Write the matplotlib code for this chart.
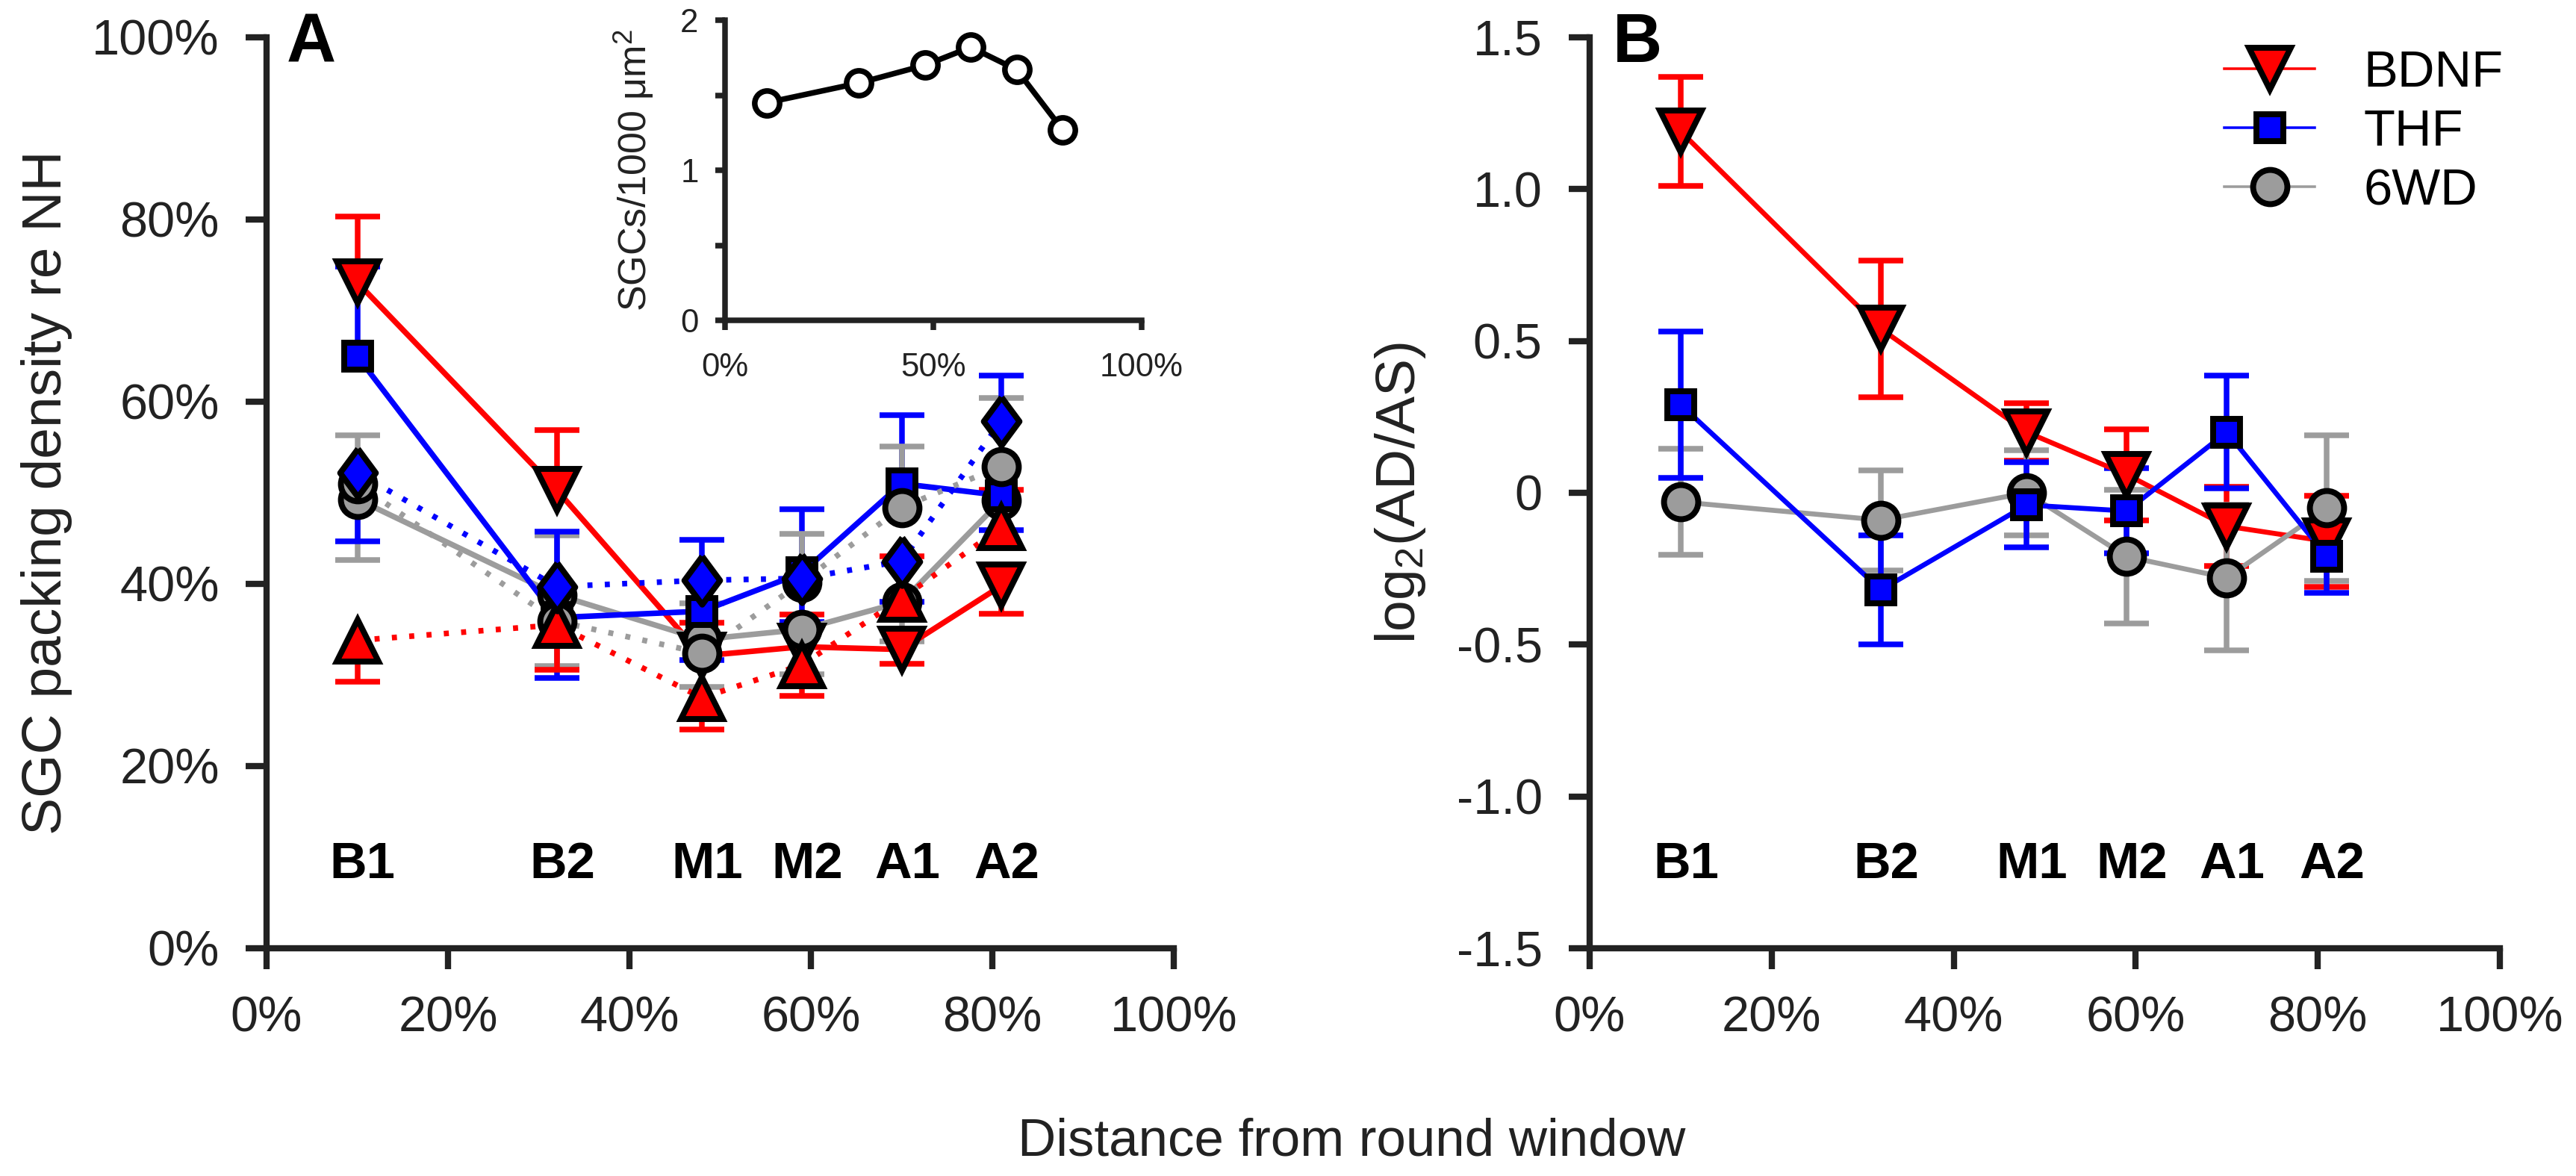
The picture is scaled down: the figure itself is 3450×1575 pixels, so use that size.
import numpy as np
import matplotlib
matplotlib.use('Agg')
import matplotlib.pyplot as plt
from matplotlib.lines import Line2D

plt.rcParams['font.family'] = ['Liberation Sans', 'DejaVu Sans']
plt.rcParams['mathtext.fontset'] = 'custom'
plt.rcParams['mathtext.rm'] = 'Liberation Sans'
plt.rcParams['mathtext.it'] = 'Liberation Sans:italic'
plt.rcParams['mathtext.bf'] = 'Liberation Sans:bold'

TEXT = '#222222'
RED = '#ff0000'
BLUE = '#0000ff'
GRAY = '#9c9c9c'

# ---------------- data ----------------
regions = ['B1', 'B2', 'M1', 'M2', 'A1', 'A2']
pos = [10, 32, 48, 59, 70, 81]          # % distance from round window

# Panel A: SGC packing density re NH (%), AD (solid) and AS (dotted), one-sided SEM
bdnf_ad = [73.1, 50.3, 32.1, 33.1, 32.8, 39.8]
bdnf_ad_err = [7.2, 6.6, 3.6, 3.5, 1.6, 3.1]
bdnf_as = [33.8, 35.5, 27.5, 31.1, 38.4, 46.2]
bdnf_as_err = [4.5, 4.9, 3.5, 3.4, 4.6, 4.1]
thf_ad = [65.0, 36.3, 37.0, 41.2, 51.0, 49.7]
thf_ad_err = [9.8, 6.6, 5.4, 7.0, 7.5, 3.8]
thf_as = [52.2, 39.7, 40.4, 40.6, 42.5, 57.9]
thf_as_err = [7.5, 6.0, 4.4, 4.8, 4.5, 5.0]
wd_ad = [49.3, 38.8, 33.9, 35.0, 38.0, 49.2]
wd_ad_err = [6.7, 6.5, 4.0, 4.9, 4.3, 5.3]
wd_as = [51.0, 35.9, 32.4, 40.2, 48.4, 52.9]
wd_as_err = [5.3, 4.9, 3.7, 5.3, 6.7, 7.5]

# Inset: normal-hearing SGC density (SGCs/1000 um^2)
nh_density = [1.45, 1.58, 1.70, 1.82, 1.67, 1.27]

# Panel B: log2(AD/AS) with SEM
bdnf_ratio = [1.19, 0.54, 0.20, 0.06, -0.11, -0.16]
bdnf_ratio_err = [0.18, 0.225, 0.095, 0.15, 0.13, 0.15]
thf_ratio = [0.29, -0.32, -0.04, -0.06, 0.20, -0.21]
thf_ratio_err = [0.24, 0.18, 0.14, 0.14, 0.185, 0.12]
wd_ratio = [-0.03, -0.09, 0.00, -0.21, -0.28, -0.05]
wd_ratio_err = [0.175, 0.165, 0.14, 0.22, 0.24, 0.24]

legend_labels = ['BDNF', 'THF', '6WD']

# ---------------- figure ----------------
W, H = 3450, 1575
fig = plt.figure(figsize=(W / 300, H / 300), dpi=300)

axA = fig.add_axes([357 / W, 1 - 1270 / H, 1215 / W, 1220 / H])
axB = fig.add_axes([2129 / W, 1 - 1270 / H, 1219 / W, 1220 / H])
axI = fig.add_axes([971 / W, 1 - 429 / H, 558 / W, 402 / H])

DIAMOND = [(0, 1), (0.74, 0), (0, -1), (-0.74, 0), (0, 1)]
DOT = (0, (0.9, 2.2))
LW = 1.8
CAPW = 14.6
MEW = 1.9


def style_axes(ax, tick_len=6.7, pad=8.5, lw=2.0, size=16):
    for s in ['top', 'right']:
        ax.spines[s].set_visible(False)
    for s in ['left', 'bottom']:
        ax.spines[s].set_linewidth(lw)
        ax.spines[s].set_color(TEXT)
    ax.tick_params(direction='out', length=tick_len, width=lw, colors=TEXT,
                   labelsize=size, pad=pad)


x = np.array(pos, dtype=float)

# ---- Panel A ----
seriesA = [
    # y, err, partner, color, linestyle, marker, ms, zorder
    (bdnf_ad, bdnf_ad_err, bdnf_as, RED, '-', 'v', 13.5, 5),
    (wd_ad, wd_ad_err, wd_as, GRAY, '-', 'o', 11.0, 6),
    (thf_ad, thf_ad_err, thf_as, BLUE, '-', 's', 8.8, 7),
    (wd_as, wd_as_err, wd_ad, GRAY, DOT, 'o', 11.0, 8),
    (bdnf_as, bdnf_as_err, bdnf_ad, RED, DOT, '^', 13.5, 9),
    (thf_as, thf_as_err, thf_ad, BLUE, DOT, DIAMOND, 15.5, 10),
]
for y, e, other, c, ls, m, ms, z in seriesA:
    y = np.array(y)
    e = np.array(e)
    sign = np.where(y >= np.array(other), 1.0, -1.0)
    end = y + sign * e
    axA.vlines(x, np.minimum(y, end), np.maximum(y, end), colors=c, lw=LW, zorder=1)
    axA.plot(x, end, ls='none', marker='_', ms=CAPW, mew=LW, color=c, zorder=1)
for y, e, other, c, ls, m, ms, z in seriesA:
    axA.plot(x, y, color=c, lw=LW, ls=ls, zorder=2, solid_capstyle='butt')
for y, e, other, c, ls, m, ms, z in seriesA:
    axA.plot(x, y, ls='none', marker=m, ms=ms, mfc=c, mec='black', mew=MEW, zorder=z)

axA.set_xlim(0, 100)
axA.set_ylim(0, 100)
axA.set_xticks(range(0, 101, 20))
axA.set_xticklabels([f'{v}%' for v in range(0, 101, 20)])
axA.set_yticks(range(0, 101, 20))
axA.set_yticklabels([f'{v}%' for v in range(0, 101, 20)])
style_axes(axA)
axA.set_ylabel('SGC packing density re NH', fontsize=18, color=TEXT)
axA.yaxis.set_label_coords(-0.214, 0.5)
axA.text(0.022, 0.973, 'A', transform=axA.transAxes, fontsize=22, fontweight='bold',
         color='black', va='baseline', ha='left')
for xi, lab in zip(pos, regions):
    axA.text(xi + 0.6, 0.077, lab, transform=axA.get_xaxis_transform(), ha='center',
             va='baseline', fontsize=16.5, fontweight='bold', color='black')

# ---- Inset ----
axI.plot(x, nh_density, color='black', lw=1.8, marker='o', ms=8.0, mfc='white',
         mec='black', mew=1.8, clip_on=False)
axI.set_xlim(0, 100)
axI.set_ylim(0, 2)
axI.set_xticks([0, 50, 100])
axI.set_xticklabels(['0%', '50%', '100%'])
axI.set_yticks([0, 0.5, 1, 1.5, 2])
axI.set_yticklabels(['0', '', '1', '', '2'])
style_axes(axI, tick_len=3.2, pad=5.3, lw=1.8, size=10.5)
axI.tick_params(axis='x', pad=7)
axI.set_ylabel('SGCs/1000 μm$^2$', fontsize=12.5, color=TEXT)
axI.yaxis.set_label_coords(-0.167, 0.5)

# ---- Panel B ----
seriesB = [
    (bdnf_ratio, bdnf_ratio_err, RED, 'v', 13.5),
    (wd_ratio, wd_ratio_err, GRAY, 'o', 11.0),
    (thf_ratio, thf_ratio_err, BLUE, 's', 8.8),
]
for i, (y, e, c, m, ms) in enumerate(seriesB):
    axB.errorbar(x, y, yerr=e, fmt='none', ecolor=c, elinewidth=LW, capsize=CAPW / 2,
                 capthick=LW, zorder=1 + i)
    axB.plot(x, y, color=c, lw=1.6, zorder=4 + i)
    axB.plot(x, y, ls='none', marker=m, ms=ms, mfc=c, mec='black', mew=MEW, zorder=8 + i)

axB.set_xlim(0, 100)
axB.set_ylim(-1.5, 1.5)
axB.set_xticks(range(0, 101, 20))
axB.set_xticklabels([f'{v}%' for v in range(0, 101, 20)])
yt = [-1.5, -1.0, -0.5, 0, 0.5, 1.0, 1.5]
axB.set_yticks(yt)
axB.set_yticklabels(['-1.5', '-1.0', '-0.5', '0', '0.5', '1.0', '1.5'])
style_axes(axB)
axB.set_ylabel('log$_2$(AD/AS)', fontsize=18, color=TEXT)
axB.yaxis.set_label_coords(-0.178, 0.5)
axB.text(0.025, 0.973, 'B', transform=axB.transAxes, fontsize=22, fontweight='bold',
         color='black', va='baseline', ha='left')
for xi, lab in zip(pos, regions):
    axB.text(xi + 0.6, 0.077, lab, transform=axB.get_xaxis_transform(), ha='center',
             va='baseline', fontsize=16.5, fontweight='bold', color='black')

handles = [Line2D([], [], color=c, lw=0.85, marker=m, ms=ms, mfc=c, mec='black', mew=MEW)
           for (_, _, c, m, ms) in [seriesB[0], seriesB[2], seriesB[1]]]
leg = axB.legend(handles, legend_labels, loc='upper right', bbox_to_anchor=(1.004, 0.987),
                 frameon=False, fontsize=16.5, handlelength=1.76, handletextpad=0.95,
                 labelspacing=0.22, borderaxespad=0.0, borderpad=0.0)
for t in leg.get_texts():
    t.set_color('black')

fig.text(0.5246, 1 - 1548 / H, 'Distance from round window', ha='center', va='baseline',
         fontsize=17, color=TEXT)

fig.savefig('out.png', dpi=300)
